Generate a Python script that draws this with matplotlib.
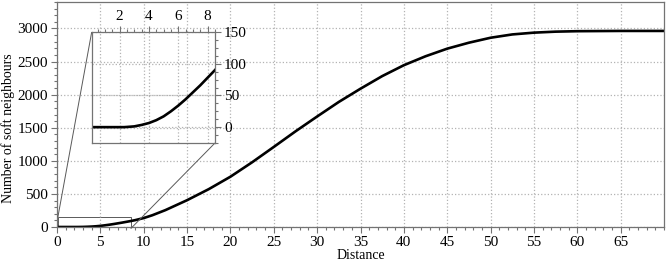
import matplotlib
matplotlib.use("Agg")
import matplotlib.pyplot as plt
from matplotlib.ticker import MultipleLocator, AutoMinorLocator
from mpl_toolkits.axes_grid1.inset_locator import mark_inset

# values
distance = [0, 1, 2, 2.3, 2.5, 3, 3.5, 4, 4.5, 5, 5.5, 6, 6.5, 7, 7.5, 8, 8.5, 9,
            10, 11, 12.5, 15, 17.5, 20, 22.5, 25, 27.5, 30, 32.5, 35, 37.5, 40,
            42.5, 45, 47.5, 50, 52.5, 55, 57.5, 60, 65, 70]
neighbours = [0, 0, 0, 0, 0.3, 1.2, 3.5, 6.5, 11, 17, 25, 34, 44, 55, 66, 78, 90, 103,
              135, 178, 255, 405, 572, 760, 978, 1210, 1445, 1670, 1890, 2090, 2280, 2445,
              2580, 2695, 2785, 2860, 2910, 2937, 2952, 2959, 2963, 2963]

plt.rcParams['font.family'] = ['Liberation Serif', 'DejaVu Serif']
plt.rcParams['font.size'] = 11

fig = plt.figure(figsize=(6.66, 2.68), dpi=100)
ax = fig.add_axes([0.0856, 0.153, 0.9114, 0.8395])


def style(a):
    for s in a.spines.values():
        s.set_color('0.45')
        s.set_linewidth(0.9)
    a.tick_params(which='both', direction='out', color='0.45', width=0.8, pad=2.5)
    a.tick_params(which='major', length=4)
    a.tick_params(which='minor', length=2.5)
    a.grid(True, which='major', linestyle=':', color='0.7', linewidth=0.9)


ax.plot(distance, neighbours, color='black', lw=1.9)
ax.set_xlim(0, 70)
ax.set_ylim(0, 3400)
ax.xaxis.set_major_locator(MultipleLocator(5))
ax.xaxis.set_minor_locator(MultipleLocator(1))
ax.yaxis.set_major_locator(MultipleLocator(500))
ax.yaxis.set_minor_locator(MultipleLocator(100))
ax.set_xticks(range(0, 70, 5))
ax.set_xlim(0, 70)
ax.set_xlabel("Distance", fontsize=10, labelpad=0)
ax.set_ylabel("Number of soft neighbours", fontsize=10)
ax.yaxis.set_label_coords(-0.069, 1500 / 3400)
style(ax)

# zoomed inset
axins = fig.add_axes([0.1377, 0.4664, 0.1851, 0.4142])
axins.patch.set_alpha(0)
axins.plot(distance, neighbours, color='black', lw=1.9)
axins.set_xlim(0.1, 8.5)
axins.set_ylim(-25, 150)
axins.xaxis.set_major_locator(MultipleLocator(2))
axins.xaxis.set_minor_locator(MultipleLocator(0.5))
axins.yaxis.set_major_locator(MultipleLocator(50))
axins.yaxis.set_minor_locator(AutoMinorLocator(4))
axins.xaxis.tick_top()
axins.yaxis.tick_right()
style(axins)

mark_inset(ax, axins, loc1=2, loc2=4, fc='none', ec='0.35', lw=0.7)

fig.savefig("out.png", dpi=100)
